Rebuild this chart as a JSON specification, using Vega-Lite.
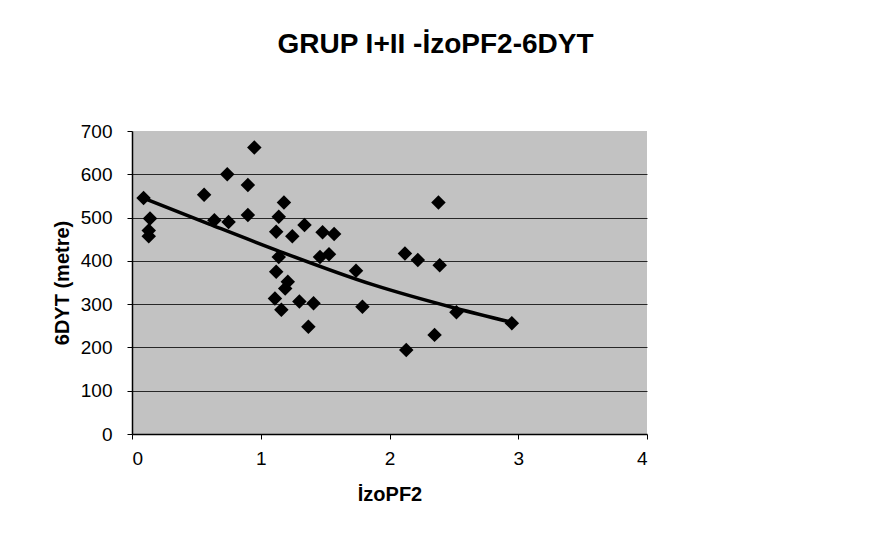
{
  "$schema": "https://vega.github.io/schema/vega-lite/v6.json",
  "width": 515,
  "height": 303,
  "autosize": {"type": "none"},
  "padding": {"left": 132, "top": 131, "right": 228, "bottom": 110},
  "background": "white",
  "title": {
    "text": "GRUP I+II -İzoPF2-6DYT",
    "font": "Liberation Sans",
    "fontSize": 28,
    "fontWeight": "bold",
    "color": "black",
    "anchor": "middle",
    "baseline": "alphabetic",
    "dx": 46,
    "offset": 41
  },
  "config": {
    "view": {"fill": "#c2c2c2", "stroke": null},
    "axis": {
      "labelFont": "Liberation Sans",
      "titleFont": "Liberation Sans",
      "labelFontSize": 19,
      "titleFontSize": 20,
      "titleFontWeight": "bold",
      "labelColor": "black",
      "titleColor": "black",
      "domainColor": "black",
      "tickColor": "black",
      "domainWidth": 1.5,
      "tickSize": 5
    }
  },
  "datasets": {
    "points": [
      {"izoPF2": 0.09, "dyt": 545},
      {"izoPF2": 0.14, "dyt": 498},
      {"izoPF2": 0.13, "dyt": 470},
      {"izoPF2": 0.13, "dyt": 457},
      {"izoPF2": 0.56, "dyt": 553},
      {"izoPF2": 0.64, "dyt": 494},
      {"izoPF2": 0.74, "dyt": 600},
      {"izoPF2": 0.75, "dyt": 490},
      {"izoPF2": 0.90, "dyt": 575},
      {"izoPF2": 0.90, "dyt": 506},
      {"izoPF2": 0.95, "dyt": 662},
      {"izoPF2": 1.12, "dyt": 467},
      {"izoPF2": 1.14, "dyt": 502},
      {"izoPF2": 1.18, "dyt": 535},
      {"izoPF2": 1.14, "dyt": 409},
      {"izoPF2": 1.12, "dyt": 375},
      {"izoPF2": 1.21, "dyt": 352},
      {"izoPF2": 1.19, "dyt": 336},
      {"izoPF2": 1.11, "dyt": 313},
      {"izoPF2": 1.16, "dyt": 287},
      {"izoPF2": 1.245, "dyt": 457},
      {"izoPF2": 1.34, "dyt": 483},
      {"izoPF2": 1.30, "dyt": 306},
      {"izoPF2": 1.41, "dyt": 302},
      {"izoPF2": 1.37, "dyt": 248},
      {"izoPF2": 1.48, "dyt": 466},
      {"izoPF2": 1.57, "dyt": 462},
      {"izoPF2": 1.46, "dyt": 409},
      {"izoPF2": 1.53, "dyt": 415},
      {"izoPF2": 1.74, "dyt": 377},
      {"izoPF2": 1.79, "dyt": 294},
      {"izoPF2": 2.12, "dyt": 417},
      {"izoPF2": 2.22, "dyt": 402},
      {"izoPF2": 2.39, "dyt": 390},
      {"izoPF2": 2.38, "dyt": 535},
      {"izoPF2": 2.52, "dyt": 281},
      {"izoPF2": 2.95, "dyt": 256},
      {"izoPF2": 2.35, "dyt": 229},
      {"izoPF2": 2.13, "dyt": 194}
    ],
    "trend": [
      {"izoPF2": 0.09, "dyt": 545},
      {"izoPF2": 0.6, "dyt": 485},
      {"izoPF2": 1.12, "dyt": 425},
      {"izoPF2": 1.87, "dyt": 345},
      {"izoPF2": 2.52, "dyt": 290},
      {"izoPF2": 2.95, "dyt": 258}
    ]
  },
  "layer": [
    {
      "data": {"name": "points"},
      "mark": {"type": "point", "shape": "diamond", "filled": true, "color": "black", "size": 210, "opacity": 1},
      "encoding": {
        "x": {
          "field": "izoPF2",
          "type": "quantitative",
          "title": "İzoPF2",
          "scale": {"domain": [0, 4], "nice": false},
          "axis": {"values": [0, 1, 2, 3, 4], "format": "d", "grid": false, "labelPadding": 10, "titlePadding": 16}
        },
        "y": {
          "field": "dyt",
          "type": "quantitative",
          "title": "6DYT (metre)",
          "scale": {"domain": [0, 700], "nice": false},
          "axis": {
            "values": [0, 100, 200, 300, 400, 500, 600, 700],
            "grid": true,
            "gridColor": "black",
            "gridWidth": 1,
            "gridOpacity": {"condition": {"test": "datum.value === 700 || datum.value === 0", "value": 0}, "value": 0.8},
            "labelPadding": 15,
            "titlePadding": 8
          }
        }
      }
    },
    {
      "data": {"name": "trend"},
      "mark": {"type": "line", "color": "black", "strokeWidth": 3.5, "interpolate": "monotone"},
      "encoding": {
        "x": {"field": "izoPF2", "type": "quantitative"},
        "y": {"field": "dyt", "type": "quantitative"}
      }
    }
  ]
}
